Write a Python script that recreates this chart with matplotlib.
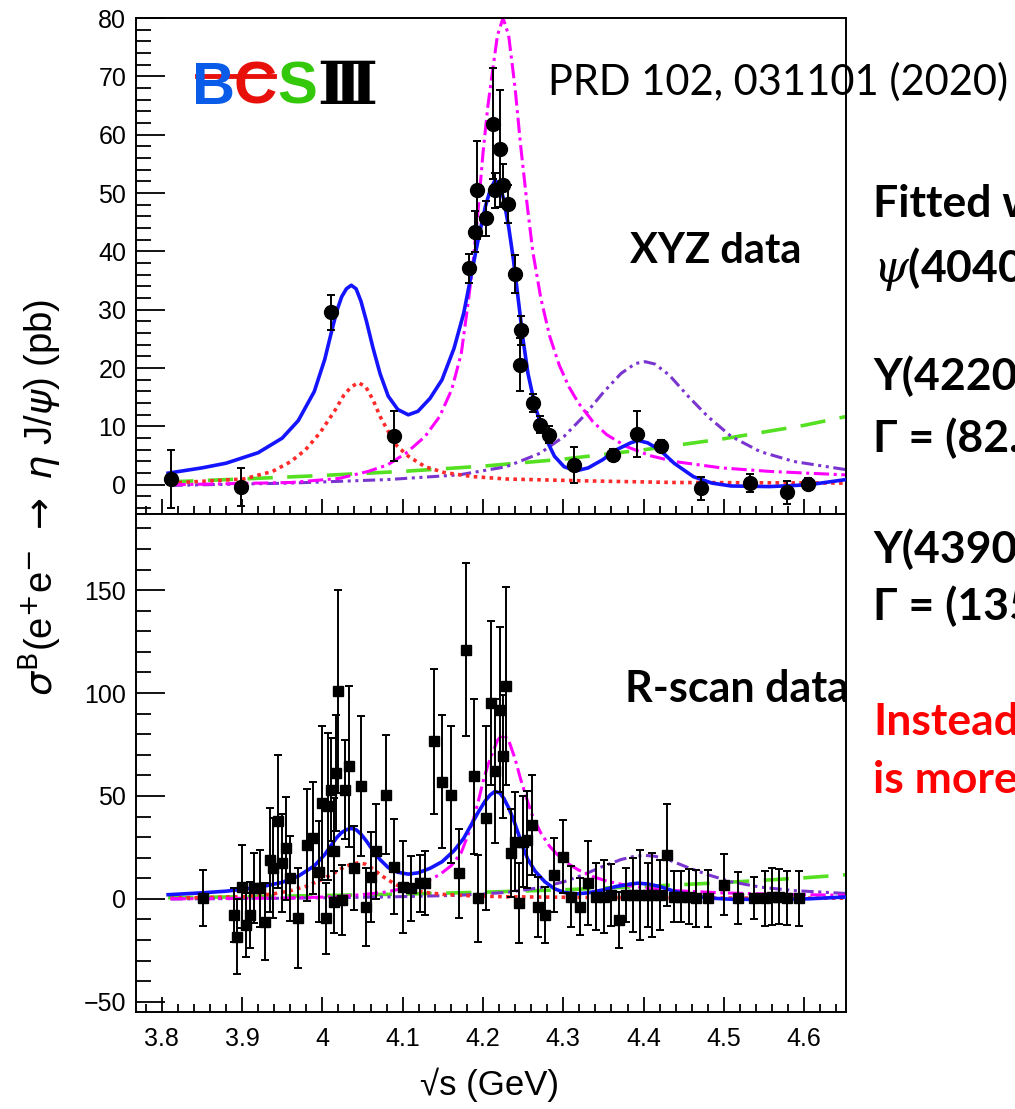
import matplotlib
matplotlib.use('Agg')
import matplotlib.pyplot as plt
from matplotlib.ticker import MultipleLocator
from matplotlib.lines import Line2D

# ---- XYZ data (top panel) ----
xyz_e = [3.811, 3.899, 4.011, 4.089, 4.183, 4.190, 4.192, 4.204, 4.213, 4.215,
         4.221, 4.225, 4.231, 4.240, 4.247, 4.246, 4.262, 4.271, 4.282, 4.313,
         4.362, 4.392, 4.422, 4.472, 4.532, 4.579, 4.605]
xyz_sig = [1.0, -0.4, 29.6, 8.4, 37.1, 43.4, 50.6, 45.7, 61.9, 50.5,
           57.6, 51.4, 48.1, 36.1, 26.5, 20.6, 14.0, 10.3, 8.6, 3.4,
           5.1, 8.7, 6.6, -0.6, 0.3, -1.3, 0.1]
xyz_err = [5.0, 3.2, 3.0, 4.3, 2.5, 3.5, 8.4, 3.0, 9.5, 3.0,
           10.0, 3.5, 3.2, 3.3, 2.5, 4.6, 1.5, 1.5, 1.5, 3.1,
           1.0, 4.0, 1.0, 2.0, 1.5, 2.0, 1.0]

# ---- R-scan data (bottom panel) ----
rscan_e = [3.851, 3.890, 3.894, 3.900, 3.905, 3.910, 3.915, 3.922, 3.929, 3.935,
           3.939, 3.945, 3.950, 3.955, 3.960, 3.970, 3.981, 3.989, 3.996, 4.000,
           4.004, 4.007, 4.011, 4.014, 4.015, 4.017, 4.020, 4.024, 4.028, 4.033,
           4.039, 4.048, 4.054, 4.061, 4.067, 4.079, 4.089, 4.100, 4.110, 4.121,
           4.128, 4.139, 4.149, 4.160, 4.170, 4.179, 4.189, 4.194, 4.204, 4.210,
           4.215, 4.221, 4.225, 4.229, 4.235, 4.240, 4.245, 4.250, 4.255, 4.261,
           4.269, 4.277, 4.289, 4.300, 4.310, 4.321, 4.331, 4.341, 4.351, 4.359,
           4.369, 4.378, 4.387, 4.395, 4.405, 4.411, 4.420, 4.429, 4.438, 4.447,
           4.456, 4.465, 4.480, 4.500, 4.518, 4.538, 4.551, 4.560, 4.569, 4.578,
           4.593]
rscan_sig = [0.3, -7.9, -18.4, 5.9, -12.7, -7.9, 5.1, 5.1, -11.1, 18.9,
             14.9, 37.6, 17.3, 24.6, 10.0, -9.5, 26.2, 29.5, 13.2, 46.5,
             -9.5, 44.9, 53.0, 23.0, -1.4, 61.1, 100.8, -0.5, 53.0, 64.3,
             14.9, 54.6, -3.8, 10.8, 23.0, 50.6, 15.7, 5.9, 5.1, 7.6,
             7.6, 76.5, 57.0, 50.6, 12.4, 121.1, 59.5, 0.3, 39.2, 95.2,
             61.9, 91.9, 69.2, 103.3, 22.2, 27.8, -2.2, 27.8, 28.7, 35.9,
             -3.8, -7.9, 11.6, 20.5, 1.1, -3.8, 7.6, 1.1, 1.1, 1.9,
             -10.3, 1.9, 1.9, 1.9, 1.9, 1.9, 1.9, 21.4, 1.1, 1.1,
             1.1, 0.3, 0.3, 6.8, 0.3, 0.3, 0.3, 1.1, 1.1, 0.3,
             0.3]
rscan_err = [13.5, 13.0, 18.2, 20.3, 15.4, 16.2, 17.0, 18.7, 18.7, 25.4,
             24.3, 32.4, 23.9, 25.1, 20.7, 24.3, 27.2, 27.2, 24.7, 37.3,
             17.4, 35.7, 25.0, 26.0, 15.0, 28.0, 49.5, 17.0, 24.0, 39.0,
             20.3, 34.0, 19.0, 21.9, 23.1, 28.8, 23.1, 22.3, 15.8, 13.8,
             15.4, 35.3, 32.4, 33.3, 21.5, 42.2, 37.7, 21.1, 44.6, 40.0,
             35.0, 40.0, 30.0, 48.0, 21.5, 24.0, 19.5, 22.0, 23.5, 24.3,
             14.6, 13.8, 17.8, 17.8, 15.0, 13.8, 20.3, 16.2, 17.8, 15.0,
             13.4, 13.0, 17.8, 21.9, 15.4, 20.3, 17.0, 24.7, 12.6, 12.6,
             13.4, 13.8, 13.8, 14.9, 12.6, 10.1, 13.4, 13.8, 13.4, 13.0,
             13.4]

# ---- fit curves ----
total_x = [3.808, 3.850, 3.880, 3.920, 3.950, 3.970, 3.990, 4.003, 4.011, 4.018,
           4.024, 4.030, 4.036, 4.042, 4.048, 4.055, 4.063, 4.072, 4.082, 4.094,
           4.107, 4.119, 4.134, 4.149, 4.164, 4.176, 4.185, 4.194, 4.203, 4.209,
           4.215, 4.221, 4.226, 4.232, 4.238, 4.244, 4.250, 4.256, 4.265, 4.277,
           4.289, 4.301, 4.316, 4.331, 4.349, 4.366, 4.384, 4.393, 4.405, 4.420,
           4.438, 4.462, 4.485, 4.509, 4.557, 4.605, 4.652]
total_y = [2.0, 2.9, 3.7, 5.5, 8.0, 11.0, 16.0, 21.5, 26.0, 29.8,
           32.2, 33.6, 34.2, 33.6, 31.5, 28.0, 23.5, 19.0, 15.2, 12.9,
           12.0, 12.6, 14.8, 18.0, 23.4, 29.4, 35.7, 42.0, 47.7, 50.5,
           52.2, 51.4, 48.8, 44.2, 38.5, 31.7, 24.8, 19.1, 13.4, 8.3,
           4.9, 3.1, 2.4, 2.9, 4.3, 6.0, 7.2, 7.6, 7.2, 6.0,
           3.7, 1.4, 0.3, -0.2, -0.3, 0.0, 0.9]

psi4040_x = [3.811, 3.902, 3.938, 3.961, 3.979, 3.997, 4.015, 4.027, 4.036, 4.045,
             4.054, 4.063, 4.072, 4.081, 4.092, 4.107, 4.128, 4.152, 4.188, 4.229,
             4.319, 4.438, 4.652]
psi4040_y = [0.3, 1.0, 2.3, 4.0, 6.0, 8.9, 12.6, 15.4, 16.8, 17.5,
             16.8, 14.6, 11.7, 9.4, 6.8, 4.9, 3.1, 2.1, 1.4, 1.0,
             0.7, 0.4, 0.3]

y4220_x = [3.811, 3.961, 4.021, 4.057, 4.081, 4.104, 4.128, 4.146, 4.161, 4.173,
           4.182, 4.188, 4.194, 4.200, 4.206, 4.212, 4.218, 4.225, 4.232, 4.240,
           4.247, 4.255, 4.262, 4.272, 4.283, 4.295, 4.307, 4.319, 4.337, 4.354,
           4.378, 4.408, 4.438, 4.497, 4.557, 4.652]
y4220_y = [0.0, 0.4, 1.1, 2.3, 3.4, 5.4, 8.3, 11.7, 16.3, 22.5,
           31.7, 38.5, 47.1, 56.8, 64.8, 71.0, 77.0, 80.0, 77.0, 68.0,
           58.0, 48.0, 40.0, 32.0, 25.5, 20.5, 16.8, 14.0, 10.8, 8.6,
           6.6, 5.0, 4.0, 2.9, 2.3, 1.7]

y4390_x = [3.811, 3.961, 4.081, 4.170, 4.229, 4.271, 4.301, 4.325, 4.349, 4.372,
           4.390, 4.402, 4.414, 4.432, 4.456, 4.480, 4.509, 4.545, 4.587, 4.652]
y4390_y = [-0.1, 0.3, 0.9, 1.7, 3.1, 5.4, 8.3, 11.7, 15.7, 19.1,
           20.8, 21.1, 20.7, 18.8, 15.1, 11.7, 8.3, 5.7, 4.0, 2.6]

bkg_x = [3.808, 3.9, 4.0, 4.1, 4.2, 4.3, 4.4, 4.5, 4.6, 4.652]
bkg_y = [0.5, 1.0, 1.6, 2.3, 3.2, 4.4, 6.0, 7.9, 10.2, 11.7]

W, H = 1015, 1109
fig = plt.figure(figsize=(W / 100, H / 100), dpi=100)


def fx(px):
    return px / W


def fy(py):
    return 1 - py / H


ax1 = fig.add_axes([fx(136), fy(514), fx(846) - fx(136), fy(18) - fy(514)])
ax2 = fig.add_axes([fx(136), fy(1012), fx(846) - fx(136), fy(514) - fy(1012)])


def draw_curves(ax):
    kw = dict(solid_joinstyle='round', dash_joinstyle='round')
    ax.plot(bkg_x, bkg_y, color='#55e022', lw=2.6, ls=(0, (7, 4)), zorder=2, **kw)
    ax.plot(y4390_x, y4390_y, color='#7a35d0', lw=2.2,
            ls=(0, (4, 1.5, 1, 1.5, 1, 1.5)), zorder=2, **kw)
    ax.plot(psi4040_x, psi4040_y, color='#ff2a2a', lw=2.6, ls=(0, (1, 1.2)), zorder=2, **kw)
    ax.plot(y4220_x, y4220_y, color='#ff00ff', lw=2.2, ls=(0, (5, 1.5, 1, 1.5)), zorder=2, **kw)
    ax.plot(total_x, total_y, color='#1414ff', lw=2.6, zorder=3, **kw)


draw_curves(ax1)
ax1.errorbar(xyz_e, xyz_sig, yerr=xyz_err, fmt='o', color='black', ms=10,
             elinewidth=1.4, capsize=3, capthick=1.4, zorder=5)

draw_curves(ax2)
ax2.errorbar(rscan_e, rscan_sig, yerr=rscan_err, fmt='s', color='black', ms=6.5,
             elinewidth=1.4, capsize=3, capthick=1.4, zorder=5)

for ax in (ax1, ax2):
    ax.set_xlim(3.768, 4.652)
    ax.xaxis.set_major_locator(MultipleLocator(0.1))
    ax.xaxis.set_minor_locator(MultipleLocator(0.02))
    ax.tick_params(axis='both', which='both', direction='in', width=1.3,
                   labelsize=18, top=False, right=False)
    ax.tick_params(axis='y', which='major', length=21, pad=7)
    ax.tick_params(axis='y', which='minor', length=11)
    ax.tick_params(axis='x', which='major', length=11, pad=11)
    ax.tick_params(axis='x', which='minor', length=5.5)
    for s in ax.spines.values():
        s.set_linewidth(1.4)

ax1.set_ylim(-5, 80)
ax1.yaxis.set_major_locator(MultipleLocator(10))
ax1.yaxis.set_minor_locator(MultipleLocator(2))
ax1.tick_params(axis='x', labelbottom=False)

ax2.set_ylim(-55, 187)
ax2.yaxis.set_major_locator(MultipleLocator(50))
ax2.yaxis.set_minor_locator(MultipleLocator(10))
ax2.set_xticks([3.8, 3.9, 4.0, 4.1, 4.2, 4.3, 4.4, 4.5, 4.6])
ax2.set_xticklabels(['3.8', '3.9', '4', '4.1', '4.2', '4.3', '4.4', '4.5', '4.6'])

for ax in (ax1, ax2):
    for lab in ax.get_xticklabels() + ax.get_yticklabels():
        lab.set_fontfamily('Liberation Sans')

# axis titles
fig.text(fx(490), fy(1085), '√s (GeV)', ha='center', va='center',
         fontsize=25, family='Liberation Sans')
fig.text(fx(40), fy(497),
         r'$\sigma^{\rm B}$(e$^{+}$e$^{-}$ $\rightarrow$ $\eta$ J/$\psi$) (pb)',
         rotation=90, ha='center', va='center', fontsize=27.5, family='Liberation Sans')

# BESIII logo
logo = dict(fontsize=43, fontweight='bold', va='baseline', ha='left', family='Liberation Sans')
fig.text(fx(192), fy(104), 'B', color='#0a5ce8', **logo)
fig.text(fx(234), fy(104), 'C', color='#e8100a', **logo)
fig.text(fx(277), fy(104), 'S', color='#33c80a', **logo)
fig.text(fx(317), fy(104), 'Ⅲ', color='black', fontsize=43, fontweight='bold',
         va='baseline', ha='left', family=['DejaVu Serif', 'DejaVu Sans'])
fig.add_artist(Line2D([fx(197), fx(274)], [fy(76), fy(76)], color='#e8100a', lw=3.5))

# annotations
bold = dict(fontsize=30, fontweight='bold', family=['Lato', 'DejaVu Sans'], va='baseline', ha='left')
fig.text(fx(548), fy(95), 'PRD 102, 031101 (2020)', fontsize=30,
         family=['Lato', 'DejaVu Sans'], va='baseline', ha='left')
fig.text(fx(630), fy(263), 'XYZ data', **bold)
fig.text(fx(625), fy(702), 'R-scan data', fontsize=31, fontweight='bold',
         family=['Lato', 'DejaVu Sans'], va='baseline', ha='left')

side = dict(fontsize=32, fontweight='bold', family=['Lato', 'DejaVu Sans'], va='baseline', ha='left')
fig.text(fx(873), fy(217), 'Fitted with', **side)
fig.text(fx(873), fy(282), r'$\psi$(4040)', math_fontfamily='dejavuserif', **side)
fig.text(fx(873), fy(390), 'Y(4220)', **side)
fig.text(fx(873), fy(452), 'Γ = (82.', **side)
fig.text(fx(873), fy(563), 'Y(4390)', **side)
fig.text(fx(873), fy(620), 'Γ = (135', **side)
fig.text(fx(873), fy(735), 'Instead', color='red', **side)
fig.text(fx(873), fy(793), 'is more', color='red', **side)

fig.savefig('out.png', dpi=100)
